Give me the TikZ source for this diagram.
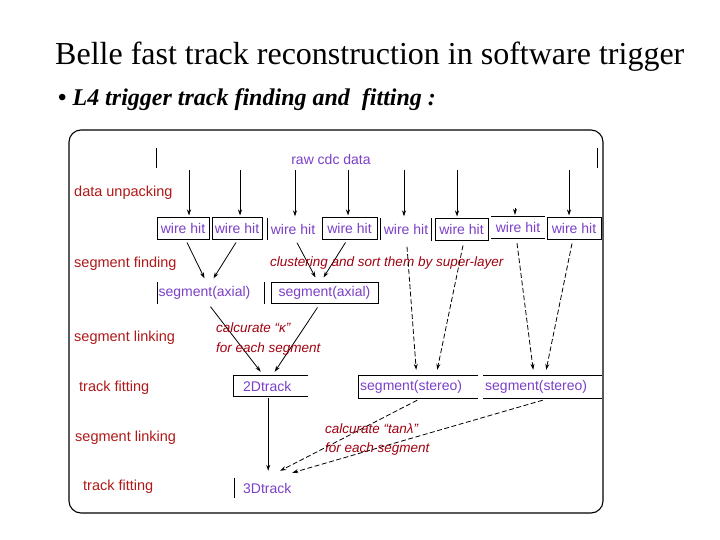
\documentclass[tikz,border=0pt]{standalone}
\usepackage{fontspec}
\setmainfont{Liberation Serif}
\newfontfamily\arialf{Liberation Sans}
\usetikzlibrary{arrows.meta,calc}
\definecolor{lblred}{HTML}{B01818}
\definecolor{annred}{HTML}{A00010}
\definecolor{purp}{HTML}{7B3FC8}
\tikzset{
 lbl/.style={anchor=west, text=lblred, font=\arialf\fontsize{14.5}{16}\selectfont, inner sep=0pt},
 ann/.style={anchor=west, text=annred, font=\arialf\itshape\fontsize{13.5}{15}\selectfont, inner sep=0pt},
 item/.style={text=purp, font=\arialf\fontsize{14}{16}\selectfont, inner sep=0pt, minimum height=21pt},
 boxed/.style={item, draw, line width=1pt},
 arr/.style={-{Stealth[length=6pt,width=4pt]}, line width=0.8pt},
 darr/.style={arr, dash pattern=on 5pt off 2.5pt},
 part/.style={line width=1pt},
}
\begin{document}
\begin{tikzpicture}[x=1pt,y=-1pt]
\useasboundingbox (0,0) rectangle (720,540);
% title
\node[anchor=base west, inner sep=0pt, font=\fontsize{32}{36}\selectfont] (title) at (55,65) {Belle fast track reconstruction in software trigger};
\node[anchor=base west, inner sep=0pt, font=\bfseries\itshape\fontsize{24}{28}\selectfont] (sub) at (58,106) {{\upshape •} L4 trigger track finding and\ \ fitting :};
% frame
\draw[line width=1.1pt, rounded corners=12pt] (69,130) rectangle (603,513);
% raw data
\node[item, minimum height=0pt] (raw) at (331,159) {raw cdc data};
\draw[part] (156,148) -- (156,168);
\draw[part] (597,148) -- (597,168);
% left labels
\node[lbl] (l1) at (74,193) {data unpacking};
\node[lbl] (l2) at (74,264) {segment finding};
\node[lbl] (l3) at (74,338) {segment linking};
\node[lbl] (l4) at (79,388) {track fitting};
\node[lbl] (l5) at (75,438) {segment linking};
\node[lbl] (l6) at (83,487) {track fitting};
% wire hits
\node[boxed, minimum width=52pt] (w1) at (183,228.5) {wire hit};
\node[boxed, minimum width=50pt] (w2) at (237,228.5) {wire hit};
\node[item, minimum width=50pt] (w3) at (293,229) {wire hit};
\draw[part] (w3.north west) -- (w3.south west);
\node[boxed, minimum width=55pt] (w4) at (349.5,228.5) {wire hit};
\node[item, minimum width=50pt] (w5) at (406,229) {wire hit};
\draw[part] (w5.north west) -- (w5.south west);
\node[boxed, minimum width=53pt] (w6) at (461.5,229.5) {wire hit};
\draw[part] ($(w6.north west)+(-3,0)$) -- ($(w6.south west)+(-3,0)$);
\node[item, minimum width=54pt] (w7) at (518,227.5) {wire hit};
\draw[part] (w7.north west) -- (w7.north east);
\draw[part] (w7.south west) -- (w7.south east);
\node[boxed, minimum width=54pt] (w8) at (574,228.5) {wire hit};
% unpacking arrows
\coordinate (a1) at (189,170);
\coordinate (a2) at (240,170);
\coordinate (a3) at (295,170);
\coordinate (a4) at (348,170);
\coordinate (a5) at (404,170);
\coordinate (a6) at (457,170);
\coordinate (a7) at (515,208);
\coordinate (a8) at (569,170);
\foreach \i in {1,2,3,4,5,6,7,8}{
  \draw[arr, shorten >=2pt] (a\i) -- (a\i |- w\i.north);
}
% axial segments
\node[item, minimum width=94pt] (s1) at (204.5,293) {segment(axial)};
\draw[part] (s1.north west) -- (s1.south west);
\node[boxed, minimum width=107pt] (s2) at (324.5,292.5) {segment(axial)};
\draw[part] ($(s2.north west)+(-6,0)$) -- ($(s2.south west)+(-6,0)$);
\draw[arr] ($(w1.south)+(4,3)$) -- ($(s1.north)+(0,-4)$);
\draw[arr] ($(w2.south)+(-1,3)$) -- ($(s1.north)+(9,-4)$);
\draw[arr] ($(w3.south)+(4,3)$) -- ($(s2.north)+(-9,-4)$);
\draw[arr] ($(w4.south)+(-4,3)$) -- ($(s2.north)+(-1,-4)$);
\node[ann] (c1) at (270,263) {clustering and sort them by super-layer};
% 2D track
\node[item, anchor=west, text width=55pt, align=left, inner xsep=10pt, minimum height=20pt] (t2) at (233,386) {2Dtrack};
\draw[part] (t2.north east) -- (t2.north west) -- (t2.south west) -- (t2.south east);
\draw[arr] ($(s1.south)+(6,3)$) -- ($(t2.north)+(-10,-4)$);
\draw[arr] ($(s2.south)+(-7,4)$) -- ($(t2.north)+(4,-4)$);
\node[ann] (k1) at (216,328) {calcurate “κ”};
\node[ann] (k2) at (216,349) {for each segment};
% stereo segments
\node[item, anchor=west, text width=116pt, align=left, inner xsep=2pt, minimum height=22pt] (st1) at (358,387) {segment(stereo)};
\draw[part] (st1.north east) -- (st1.north west) -- (st1.south west) -- (st1.south east);
\node[item, anchor=west, text width=115pt, align=left, inner xsep=2pt, minimum height=22pt] (st2) at (483,387) {segment(stereo)};
\draw[part] (st2.north west) -- (st2.north east);
\draw[part] (st2.south west) -- (st2.south east);
\draw[darr] ($(w5.south)+(1,7)$) -- ($(st1.north)+(-2,-6)$);
\draw[darr] ($(w6.south)+(1.5,5)$) -- ($(st1.north)+(19,-6)$);
\draw[darr] ($(w7.south)+(-1,5)$) -- ($(st2.north)+(-9.5,-6)$);
\draw[darr] ($(w8.south)+(-2,4)$) -- ($(st2.north)+(3.5,-6)$);
% 3D track
\node[item, anchor=west, text width=50pt, align=left, inner xsep=9pt, minimum height=20pt] (t3) at (234,488) {3Dtrack};
\draw[part] (t3.north west) -- (t3.south west);
\draw[arr] ($(t2.south)+(-2.5,2)$) -- ($(t3.north)+(0,-7)$);
\draw[darr] ($(st1.south)+(-1,2)$) -- ($(t3.north)+(12,-7)$);
\draw[darr] ($(st2.south)+(0,2)$) -- ($(t3.north)+(24,-5)$);
\node[ann] (k3) at (325,429) {calcurate “tanλ”};
\node[ann] (k4) at (325,449) {for each segment};
\end{tikzpicture}
\end{document}
